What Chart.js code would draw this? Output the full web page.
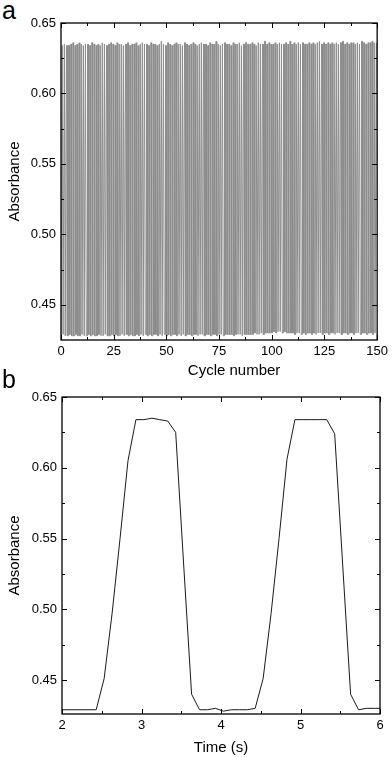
<!DOCTYPE html>
<html>
<head>
<meta charset="utf-8">
<script src="https://cdn.jsdelivr.net/npm/chart.js@4.4.1/dist/chart.umd.min.js"></script>
<style>
    html, body { margin: 0; padding: 0; background: #fff; }
    body { width: 392px; height: 757px; position: relative; overflow: hidden; font-family: "Liberation Sans", Arial, sans-serif; }
    .panel { position: absolute; left: 0; width: 392px; }
    .tag { position: absolute; left: 2px; font-size: 25px; color: #000; line-height: 1; }
</style>
</head>
<body>
<div class="tag" style="top:-2px;">a</div>
<div class="panel" style="top:0; height:380px;"><canvas id="chartA"></canvas></div>
<div class="tag" style="top:367px;">b</div>
<div class="panel" style="top:380px; height:377px;"><canvas id="chartB"></canvas></div>

<script>
// Panel a: absorbance maxima / minima per switching cycle
const cyclePeaks = [
    0.634,0.635,0.634,0.634,0.635,0.636,0.634,0.635,0.636,0.635,
    0.634,0.635,0.635,0.634,0.636,0.635,0.634,0.635,0.634,0.636,
    0.635,0.634,0.635,0.636,0.635,0.634,0.636,0.635,0.635,0.634,
    0.635,0.636,0.634,0.635,0.635,0.636,0.634,0.635,0.636,0.635,
    0.635,0.634,0.636,0.635,0.635,0.634,0.635,0.637,0.635,0.634,
    0.636,0.635,0.634,0.635,0.636,0.635,0.635,0.634,0.636,0.635,
    0.634,0.635,0.636,0.635,0.634,0.635,0.636,0.635,0.635,0.634,
    0.636,0.635,0.635,0.637,0.635,0.634,0.635,0.636,0.635,0.635,
    0.634,0.636,0.635,0.635,0.636,0.634,0.635,0.636,0.635,0.635,
    0.636,0.635,0.634,0.636,0.635,0.635,0.637,0.635,0.636,0.635,
    0.635,0.636,0.635,0.636,0.635,0.635,0.636,0.635,0.637,0.635,
    0.636,0.635,0.636,0.635,0.636,0.635,0.635,0.636,0.635,0.636,
    0.635,0.636,0.637,0.635,0.636,0.635,0.636,0.635,0.636,0.635,
    0.636,0.635,0.636,0.637,0.635,0.636,0.635,0.636,0.636,0.635,
    0.636,0.635,0.637,0.636,0.635,0.636,0.636,0.637,0.636,0.636
];
const cycleTroughs = [
    0.428,0.429,0.428,0.428,0.429,0.428,0.428,0.429,0.428,0.428,
    0.429,0.428,0.428,0.429,0.428,0.429,0.428,0.428,0.429,0.428,
    0.428,0.429,0.428,0.428,0.429,0.428,0.429,0.428,0.428,0.429,
    0.428,0.429,0.428,0.429,0.428,0.428,0.429,0.428,0.429,0.428,
    0.429,0.428,0.429,0.428,0.429,0.429,0.428,0.429,0.428,0.429,
    0.428,0.429,0.428,0.429,0.429,0.428,0.429,0.428,0.429,0.428,
    0.429,0.429,0.428,0.429,0.429,0.428,0.429,0.429,0.428,0.429,
    0.429,0.428,0.429,0.429,0.428,0.429,0.429,0.428,0.429,0.429,
    0.429,0.429,0.428,0.429,0.429,0.429,0.428,0.429,0.429,0.429,
    0.429,0.429,0.430,0.429,0.429,0.430,0.429,0.430,0.430,0.430,
    0.430,0.431,0.430,0.431,0.431,0.430,0.431,0.430,0.430,0.430,
    0.430,0.429,0.430,0.430,0.429,0.430,0.429,0.430,0.430,0.429,
    0.430,0.429,0.430,0.430,0.429,0.430,0.430,0.429,0.430,0.430,
    0.429,0.430,0.430,0.429,0.430,0.430,0.429,0.430,0.430,0.429,
    0.430,0.430,0.429,0.430,0.430,0.429,0.430,0.430,0.429,0.430
];
// where in each cycle the level changes: low start, low end, high start, high end
const cyclePhase = [0, 0.35, 0.6, 0.85];
const xTicksA = [0, 25, 50, 75, 100, 125, 150];
const xMinorA = [12.5, 37.5, 62.5, 87.5, 112.5, 137.5];

// Panel b: two switching cycles vs time
const timeB = [
    2.00, 2.43, 2.53, 2.63, 2.73, 2.83, 2.93, 3.03, 3.13, 3.23, 3.33, 3.43, 3.53, 3.63,
    3.73, 3.83, 3.93, 4.03, 4.13, 4.23, 4.33, 4.43, 4.53, 4.63, 4.73, 4.83, 4.93, 5.03,
    5.13, 5.23, 5.33, 5.43, 5.53, 5.63, 5.73, 5.83, 5.93, 6.00
];
const absB = [
    0.429, 0.429, 0.451, 0.497, 0.550, 0.605, 0.634, 0.634, 0.635, 0.634, 0.633, 0.625, 0.532, 0.440,
    0.429, 0.429, 0.430, 0.428, 0.429, 0.429, 0.429, 0.430, 0.451, 0.497, 0.550, 0.606, 0.634, 0.634,
    0.634, 0.634, 0.634, 0.624, 0.532, 0.440, 0.429, 0.430, 0.430, 0.430
];
const xTicksB = [2, 3, 4, 5, 6];
const xMinorB = [2.5, 3.5, 4.5, 5.5];

const yTicks = [0.45, 0.50, 0.55, 0.60, 0.65];
const yMinor = [0.475, 0.525, 0.575, 0.625];

// build the cycle trace for panel a from the per-cycle levels
const traceA = [];
cyclePeaks.forEach((peak, i) => {
    const low = cycleTroughs[i];
    traceA.push({ x: i + cyclePhase[0], y: low });
    traceA.push({ x: i + cyclePhase[1], y: low });
    traceA.push({ x: i + cyclePhase[2], y: peak });
    traceA.push({ x: i + cyclePhase[3], y: peak });
});
const traceB = timeB.map((t, i) => ({ x: t, y: absB[i] }));

// frame with inward ticks on all four sides
const frameTicks = {
    id: 'frameTicks',
    afterDraw(chart, args, opts) {
        const { ctx, chartArea: a, scales: { x, y } } = chart;
        ctx.save();
        ctx.strokeStyle = '#000';
        ctx.lineWidth = 1.3;
        ctx.strokeRect(a.left, a.top, a.right - a.left, a.bottom - a.top);
        ctx.lineWidth = 1;
        const seg = (x1, y1, x2, y2) => { ctx.beginPath(); ctx.moveTo(x1, y1); ctx.lineTo(x2, y2); ctx.stroke(); };
        const xMarks = (vals, len) => vals.forEach(v => {
            const p = Math.round(x.getPixelForValue(v)) + 0.5;
            seg(p, a.bottom, p, a.bottom - len);
            seg(p, a.top, p, a.top + len);
        });
        const yMarks = (vals, len) => vals.forEach(v => {
            const p = Math.round(y.getPixelForValue(v)) + 0.5;
            seg(a.left, p, a.left + len, p);
            seg(a.right, p, a.right - len, p);
        });
        xMarks(opts.xMajor, 5);
        xMarks(opts.xMinor, 3);
        yMarks(opts.yMajor, 5);
        yMarks(opts.yMinor, 3);
        ctx.restore();
    }
};

const tickFont = { family: '"Liberation Sans", Arial, sans-serif', size: 13 };
const titleFont = { family: '"Liberation Sans", Arial, sans-serif', size: 15 };

function makeChart(id, trace, color, xCfg, yMin, pad, xHeight) {
    return new Chart(document.getElementById(id), {
        type: 'line',
        data: {
            datasets: [{
                data: trace,
                borderColor: color,
                borderWidth: 1,
                pointRadius: 0,
                tension: 0,
                fill: false
            }]
        },
        options: {
            responsive: true,
            maintainAspectRatio: false,
            animation: false,
            events: [],
            layout: { padding: pad },
            plugins: {
                legend: { display: false },
                tooltip: { enabled: false },
                frameTicks: { xMajor: xCfg.ticks, xMinor: xCfg.minor, yMajor: yTicks, yMinor: yMinor }
            },
            scales: {
                x: {
                    type: 'linear',
                    min: xCfg.min,
                    max: xCfg.max,
                    border: { display: false },
                    grid: { display: false, drawTicks: false },
                    afterBuildTicks: s => { s.ticks = xCfg.ticks.map(v => ({ value: v })); },
                    afterFit: s => { s.height = xHeight; },
                    ticks: { color: '#000', font: tickFont, padding: 4, maxRotation: 0, autoSkip: false },
                    title: { display: true, text: xCfg.title, color: '#000', font: titleFont, padding: { top: 2, bottom: 0 } }
                },
                y: {
                    min: yMin,
                    max: 0.65,
                    border: { display: false },
                    grid: { display: false, drawTicks: false },
                    afterBuildTicks: s => { s.ticks = yTicks.map(v => ({ value: v })); },
                    afterFit: s => { s.width = pad.yWidth; },
                    ticks: { color: '#000', font: tickFont, padding: 5, callback: v => v.toFixed(2) },
                    title: { display: true, text: 'Absorbance', color: '#000', font: titleFont, padding: { top: 6, bottom: 0 } }
                }
            }
        },
        plugins: [frameTicks]
    });
}

makeChart('chartA', traceA, '#8c8c8c',
    { min: 0, max: 150, ticks: xTicksA, minor: xMinorA, title: '\u2003\u2003Cycle number' },
    0.425, { top: 23, right: 14, left: 0, bottom: 0, yWidth: 61 }, 40);

makeChart('chartB', traceB, '#1a1a1a',
    { min: 2, max: 6, ticks: xTicksB, minor: xMinorB, title: 'Time (s)' },
    0.426, { top: 17, right: 12, left: 0, bottom: 0, yWidth: 62 }, 43);
</script>
</body>
</html>
